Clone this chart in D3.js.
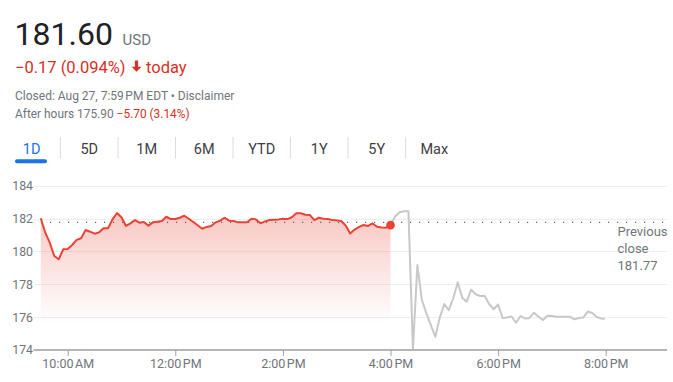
<!DOCTYPE html>
<html>
<head>
<meta charset="utf-8">
<script src="https://cdn.jsdelivr.net/npm/d3@7"></script>
<style>
  html, body { margin: 0; padding: 0; background: #fff; }
  svg { display: block; font-family: Roboto, "Noto Sans", Arial, sans-serif; }
</style>
</head>
<body>
<svg id="chart" width="673" height="382"></svg>
<script>
// ---------------- data ----------------
const price = "181.60";
const currency = "USD";
const changeText = "\u22120.17 (0.094%)";
const changeSuffix = "today";
const closedText = "Closed: Aug 27, 7:59\u202FPM EDT \u2022 Disclaimer";
const afterHoursLabel = "After hours 175.90";
const afterHoursChange = "\u22125.70 (3.14%)";
const tabs = ["1D", "5D", "1M", "6M", "YTD", "1Y", "5Y", "Max"];
const previousClose = 181.77;
const previousCloseLabel = ["Previous", "close", "181.77"];

const yTicks = [174, 176, 178, 180, 182, 184];
const xTickMinutes = [600, 720, 840, 960, 1080, 1200];
const xTickLabels = ["10:00\u202FAM", "12:00\u202FPM", "2:00\u202FPM", "4:00\u202FPM", "6:00\u202FPM", "8:00\u202FPM"];

const sessionStartMinute = 570;   // 9:30 AM
const afterHoursStartMinute = 960; // 4:00 PM
const stepMinutes = 5;
const afterHoursLastMinute = 1199; // 7:59 PM

// regular session, every 5 minutes from 9:30 AM to 4:00 PM
const regularValues = [
  182.02, 181.14, 180.53, 179.72, 179.52, 180.13, 180.15, 180.39, 180.70, 180.80,
  181.30, 181.20, 181.08, 181.16, 181.41, 181.41, 181.95, 182.34, 182.08, 181.55,
  181.71, 181.91, 181.75, 181.79, 181.57, 181.77, 181.81, 181.85, 182.11, 181.97,
  181.97, 182.05, 182.17, 181.99, 181.79, 181.59, 181.38, 181.49, 181.55, 181.77,
  181.87, 182.05, 181.87, 181.85, 181.77, 181.77, 181.77, 181.99, 181.95, 181.71,
  181.83, 181.91, 181.93, 181.95, 181.99, 181.97, 182.08, 182.32, 182.32, 182.23,
  182.22, 181.91, 182.05, 181.99, 181.97, 181.91, 181.89, 181.85, 181.58, 181.09,
  181.33, 181.49, 181.61, 181.55, 181.70, 181.50, 181.46, 181.44, 181.60
];

// after hours, every 5 minutes from 4:00 PM, last print at 7:59 PM
const afterHoursValues = [
  181.60, 182.11, 182.38, 182.44, 182.44, 174.06, 179.17, 177.04, 176.23, 175.52,
  174.81, 175.98, 176.80, 176.43, 177.15, 178.12, 177.18, 176.94, 177.67, 177.39,
  177.29, 177.30, 176.80, 176.48, 176.77, 175.95, 175.98, 176.04, 175.66, 176.07,
  175.91, 175.95, 176.27, 176.03, 175.83, 176.09, 176.07, 176.03, 176.03, 176.03,
  176.03, 175.87, 175.95, 175.98, 176.34, 176.25, 176.01, 175.92, 175.90
];

// ---------------- drawing ----------------
const svg = d3.select("#chart");
const grayText = "#70757a";
const red = "#d93025";
const lineRed = "#ea4335";

// header
svg.append("text").attr("x", 14.5).attr("y", 45)
  .attr("font-size", 32).attr("fill", "#202124").text(price);
svg.append("text").attr("x", 122.5).attr("y", 45)
  .attr("font-size", 15).attr("fill", grayText).text(currency);

svg.append("text").attr("x", 15).attr("y", 72.5)
  .attr("font-size", 16.5).attr("fill", red).text(changeText);
// down arrow icon
const arrowX = 136.5;
svg.append("path")
  .attr("d", `M${arrowX - 1.6},60.5 h3.2 v6.3 h3.3 l-4.9,5 l-4.9,-5 h3.3 z`)
  .attr("fill", red);
svg.append("text").attr("x", 146).attr("y", 72.5)
  .attr("font-size", 16.5).attr("fill", red).text(changeSuffix);

svg.append("text").attr("x", 15).attr("y", 99.5)
  .attr("font-size", 12).attr("fill", grayText).text(closedText);
const ah = svg.append("text").attr("x", 15).attr("y", 117.5)
  .attr("font-size", 11.9).attr("fill", grayText);
ah.append("tspan").text(afterHoursLabel + " ");
ah.append("tspan").attr("fill", red).text(afterHoursChange);

// tabs
const tabCenters = d3.scalePoint().domain(tabs).range([31.7, 434.3]);
const tabStep = tabCenters.step();
tabs.forEach((t, i) => {
  svg.append("text")
    .attr("x", tabCenters(t)).attr("y", 154)
    .attr("text-anchor", "middle")
    .attr("font-size", 14.5)
    .attr("fill", i === 0 ? "#1a73e8" : "#3c4043")
    .text(t);
  if (i < tabs.length - 1) {
    svg.append("line")
      .attr("x1", tabCenters(t) + tabStep / 2).attr("x2", tabCenters(t) + tabStep / 2)
      .attr("y1", 137).attr("y2", 158.5)
      .attr("stroke", "#dadce0").attr("stroke-width", 1);
  }
});
svg.append("rect").attr("x", 15).attr("y", 159.3).attr("width", 32).attr("height", 4)
  .attr("rx", 2).attr("fill", "#1a73e8");

// scales
const plotLeft = 33.5, plotRight = 667;
const x = d3.scaleLinear().domain([570, 1200]).range([40.8, 605.7]);
const y = d3.scaleLinear().domain([174, 184]).range([350, 185.7]);

const regular = regularValues.map((v, i) => ({ t: sessionStartMinute + i * stepMinutes, v }));
const after = afterHoursValues.map((v, i) => ({
  t: i === afterHoursValues.length - 1 ? afterHoursLastMinute : afterHoursStartMinute + i * stepMinutes,
  v
}));

// gridlines
svg.append("g").selectAll("line").data(yTicks.filter(d => d !== 174)).join("line")
  .attr("x1", plotLeft).attr("x2", plotRight)
  .attr("y1", d => Math.round(y(d)) + 0.5).attr("y2", d => Math.round(y(d)) + 0.5)
  .attr("stroke", "#eeeff1").attr("stroke-width", 1);

// y labels
svg.append("g").selectAll("text").data(yTicks).join("text")
  .attr("x", 33).attr("y", d => y(d))
  .attr("dy", "0.36em")
  .attr("text-anchor", "end")
  .attr("font-size", 12.3).attr("fill", grayText)
  .text(d => d);

// gradient area
const defs = svg.append("defs");
const grad = defs.append("linearGradient").attr("id", "redFill")
  .attr("gradientUnits", "userSpaceOnUse")
  .attr("x1", 0).attr("x2", 0).attr("y1", y(182.4)).attr("y2", y(175.6));
grad.append("stop").attr("offset", 0).attr("stop-color", lineRed).attr("stop-opacity", 0.3);
grad.append("stop").attr("offset", 1).attr("stop-color", lineRed).attr("stop-opacity", 0);

svg.append("path").datum(regular)
  .attr("d", d3.area().x(d => x(d.t)).y0(y(174)).y1(d => y(d.v)))
  .attr("fill", "url(#redFill)");

// previous close dotted line
svg.append("line")
  .attr("x1", 50).attr("x2", 666)
  .attr("y1", y(previousClose)).attr("y2", y(previousClose))
  .attr("stroke", "#5f6368").attr("stroke-width", 1.2)
  .attr("stroke-dasharray", "1.2,7.8");

// after hours line
svg.append("path").datum(after)
  .attr("d", d3.line().x(d => x(d.t)).y(d => y(d.v)))
  .attr("fill", "none").attr("stroke", "#c8c8c8").attr("stroke-width", 2)
  .attr("stroke-linejoin", "round");

// regular line
svg.append("path").datum(regular)
  .attr("d", d3.line().x(d => x(d.t)).y(d => y(d.v)))
  .attr("fill", "none").attr("stroke", lineRed).attr("stroke-width", 2)
  .attr("stroke-linejoin", "round");

const last = regular[regular.length - 1];
svg.append("circle").attr("cx", x(last.t)).attr("cy", y(last.v)).attr("r", 4.3)
  .attr("fill", lineRed);

// x axis
svg.append("line").attr("x1", plotLeft).attr("x2", plotRight)
  .attr("y1", 350).attr("y2", 350)
  .attr("stroke", "#b3b5b8").attr("stroke-width", 2);
const xAxis = d3.axisBottom(x).tickValues(xTickMinutes)
  .tickFormat((d, i) => xTickLabels[i]).tickSize(6).tickPadding(3);
const gx = svg.append("g").attr("transform", "translate(0,350)").call(xAxis);
gx.select(".domain").remove();
gx.selectAll(".tick line").attr("stroke", "#9aa0a6");
gx.selectAll(".tick text").attr("font-size", 12.5).attr("fill", grayText)
  .attr("font-family", "Roboto, 'Noto Sans', Arial, sans-serif");

// previous close label
svg.append("g").selectAll("text").data(previousCloseLabel).join("text")
  .attr("x", 617.5).attr("y", (d, i) => 236 + i * 16.8)
  .attr("font-size", 13).attr("fill", grayText)
  .text(d => d);
</script>
</body>
</html>
